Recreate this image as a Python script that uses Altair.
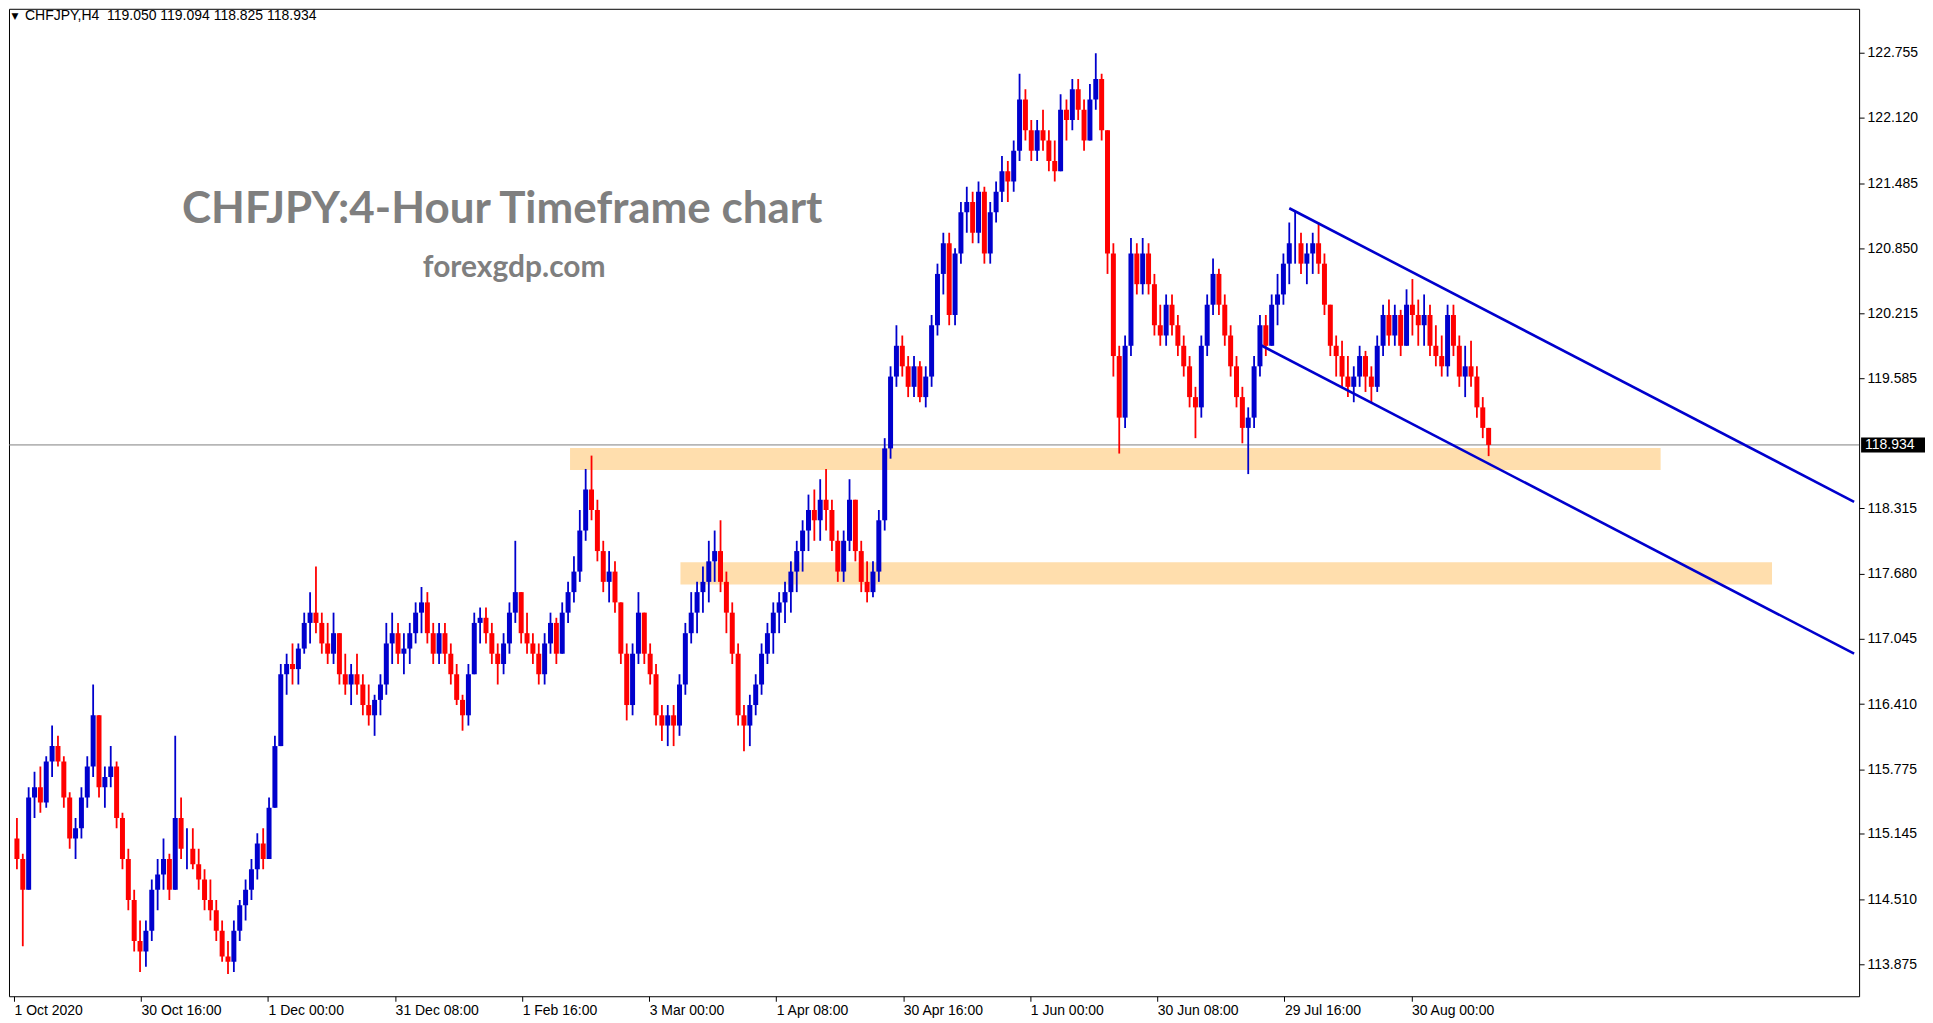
import altair as alt
import pandas as pd

# ---- data (one candle per trading day, 6 H4 bars) ----
first_open = 115.1
closes = [114.9, 114.6, 115.5, 115.6, 115.45, 115.85, 116.0, 115.85, 115.5, 115.1,
          115.2, 115.5, 115.8, 116.3, 115.6, 115.7, 115.8, 115.3, 114.9, 114.5,
          114.1, 114.0, 114.2, 114.6, 114.75, 114.9, 114.6, 115.3, 115.0, 115.0,
          114.85, 114.7, 114.5, 114.4, 114.2, 113.95, 113.9, 114.2, 114.45, 114.6,
          114.8, 115.05, 114.9, 115.4, 116.0, 116.7, 116.8, 116.75, 116.95, 117.2,
          117.3, 117.2, 117.0, 116.9, 117.1, 116.7, 116.6, 116.7, 116.6, 116.4,
          116.3, 116.45, 116.6, 117.0, 117.1, 116.9, 116.95, 117.1, 117.3, 117.4,
          117.1, 116.9, 117.1, 116.9, 116.7, 116.45, 116.3, 116.7, 117.2, 117.25,
          117.1, 116.9, 116.8, 117.0, 117.3, 117.5, 117.1, 117.0, 116.9, 116.7,
          117.0, 117.2, 116.9, 117.3, 117.5, 117.7, 118.1, 118.5, 118.3, 117.9,
          117.6, 117.7, 117.4, 116.9, 116.4, 116.9, 117.3, 116.9, 116.7, 116.3,
          116.2, 116.3, 116.2, 116.6, 117.1, 117.3, 117.5, 117.6, 117.8, 117.9,
          117.6, 117.3, 116.9, 116.3, 116.2, 116.4, 116.6, 116.9, 117.1, 117.3,
          117.4, 117.5, 117.7, 117.9, 118.1, 118.3, 118.2, 118.4, 118.3, 118.0,
          117.7, 118.0, 118.4, 117.9, 117.6, 117.5, 117.7, 118.2, 118.9, 119.6,
          119.9, 119.7, 119.5, 119.7, 119.4, 119.6, 120.1, 120.6, 120.9, 120.2,
          120.8, 121.2, 121.3, 121.0, 121.4, 120.8, 121.2, 121.4, 121.6, 121.5,
          121.8, 122.3, 122.0, 121.8, 122.0, 121.9, 121.7, 121.6, 122.2, 122.1,
          122.4, 122.2, 121.9, 122.3, 122.5, 122.0, 120.8, 119.8, 119.2, 119.9,
          120.8, 120.5, 120.8, 120.5, 120.1, 120.0, 120.3, 120.1, 119.9, 119.7,
          119.4, 119.3, 119.9, 120.3, 120.6, 120.3, 120.0, 119.7, 119.4, 119.1,
          119.2, 119.7, 120.1, 119.9, 120.3, 120.4, 120.7, 120.9, 120.9, 120.7,
          120.8, 120.9, 120.7, 120.3, 119.9, 119.8, 119.6, 119.5, 119.6, 119.8,
          119.6, 119.5, 119.9, 120.2, 120.0, 120.2, 119.9, 120.3, 120.2, 120.1,
          120.2, 119.9, 119.8, 119.7, 120.2, 119.9, 119.6, 119.7, 119.6, 119.3,
          119.1, 118.934]
highs = [115.3, 114.95, 115.6, 115.75, 115.8, 115.9, 116.2, 116.1, 115.9, 115.55,
         115.3, 115.6, 115.9, 116.6, 116.3, 115.8, 116.0, 115.85, 115.35, 115.0,
         114.6, 114.3, 114.3, 114.7, 114.9, 115.1, 114.95, 116.1, 115.5, 115.2,
         115.2, 115.0, 114.8, 114.7, 114.5, 114.3, 114.1, 114.3, 114.5, 114.7,
         114.9, 115.15, 115.2, 115.5, 116.1, 116.8, 116.9, 117.0, 117.0, 117.3,
         117.5, 117.75, 117.3, 117.2, 117.3, 117.1, 116.9, 116.8, 116.9, 116.7,
         116.6, 116.5, 116.7, 117.2, 117.3, 117.2, 117.1, 117.2, 117.4, 117.55,
         117.5, 117.2, 117.2, 117.2, 117.0, 116.8, 116.5, 116.8, 117.3, 117.35,
         117.35, 117.2, 117.0, 117.1, 117.4, 118.0, 117.5, 117.3, 117.1, 117.0,
         117.1, 117.3, 117.25, 117.4, 117.6, 117.85, 118.3, 118.7, 118.83, 118.4,
         118.0, 117.9, 117.8, 117.4, 117.0, 117.0, 117.5, 117.3, 117.0, 116.8,
         116.4, 116.4, 116.4, 116.7, 117.2, 117.5, 117.6, 117.75, 118.0, 118.1,
         118.2, 117.7, 117.4, 117.0, 116.4, 116.5, 116.7, 117.0, 117.2, 117.4,
         117.5, 117.6, 117.8, 118.0, 118.2, 118.45, 118.5, 118.6, 118.7, 118.4,
         118.1, 118.1, 118.6, 118.4, 118.0, 117.8, 117.8, 118.3, 119.0, 119.7,
         120.1, 120.0, 119.8, 119.8, 119.75, 119.7, 120.2, 120.7, 121.0, 121.0,
         120.85, 121.3, 121.45, 121.4, 121.5, 121.45, 121.3, 121.5, 121.75, 121.7,
         121.9, 122.55, 122.4, 122.1, 122.1, 122.2, 122.0, 121.9, 122.35, 122.3,
         122.5, 122.5, 122.3, 122.45, 122.75, 122.55, 122.0, 120.9, 119.9, 120.0,
         120.95, 120.9, 120.95, 120.9, 120.6, 120.3, 120.4, 120.4, 120.2, 120.0,
         119.8, 119.5, 120.0, 120.4, 120.75, 120.65, 120.4, 120.1, 119.8, 119.5,
         119.3, 119.8, 120.2, 120.2, 120.4, 120.6, 120.8, 121.1, 121.22, 121.0,
         120.9, 121.0, 121.1, 120.8, 120.3, 120.0, 119.95, 119.8, 119.7, 119.9,
         119.85, 119.7, 120.0, 120.3, 120.35, 120.3, 120.25, 120.45, 120.55, 120.35,
         120.4, 120.3, 120.1, 120.0, 120.3, 120.3, 120.0, 119.9, 119.95, 119.7,
         119.4, 119.094]
lows = [114.8, 114.05, 114.6, 115.3, 115.35, 115.4, 115.7, 115.8, 115.4, 115.0,
        114.9, 115.1, 115.4, 115.7, 115.5, 115.4, 115.6, 115.2, 114.8, 114.4,
        114.0, 113.8, 113.85, 114.1, 114.4, 114.6, 114.5, 114.6, 114.9, 114.8,
        114.8, 114.6, 114.4, 114.3, 114.1, 113.9, 113.78, 113.8, 114.1, 114.3,
        114.5, 114.7, 114.8, 114.9, 115.4, 116.0, 116.5, 116.6, 116.6, 116.9,
        117.0, 117.1, 116.9, 116.8, 116.8, 116.6, 116.5, 116.4, 116.5, 116.3,
        116.2, 116.1, 116.3, 116.5, 116.8, 116.8, 116.7, 116.8, 117.0, 117.1,
        117.0, 116.8, 116.8, 116.8, 116.6, 116.4, 116.15, 116.2, 116.7, 117.0,
        117.0, 116.8, 116.6, 116.7, 116.9, 117.2, 117.0, 116.9, 116.8, 116.6,
        116.6, 116.9, 116.8, 116.9, 117.2, 117.4, 117.6, 118.0, 118.2, 117.8,
        117.5, 117.4, 117.3, 116.8, 116.25, 116.3, 116.8, 116.8, 116.6, 116.2,
        116.05, 116.0, 116.0, 116.1, 116.5, 117.0, 117.1, 117.3, 117.4, 117.6,
        117.5, 117.1, 116.8, 116.2, 115.95, 116.0, 116.3, 116.5, 116.8, 116.9,
        117.1, 117.2, 117.3, 117.5, 117.7, 117.9, 118.0, 118.0, 118.1, 117.9,
        117.6, 117.6, 117.9, 117.8, 117.5, 117.4, 117.45, 117.6, 118.1, 118.8,
        119.5, 119.6, 119.4, 119.4, 119.35, 119.3, 119.5, 120.0, 120.4, 120.1,
        120.1, 120.7, 121.0, 120.9, 120.9, 120.7, 120.7, 121.1, 121.3, 121.3,
        121.4, 121.7, 121.9, 121.7, 121.7, 121.8, 121.6, 121.5, 121.6, 121.9,
        122.0, 122.1, 121.8, 121.9, 122.2, 121.9, 120.6, 119.6, 118.85, 119.1,
        119.8, 120.4, 120.4, 120.4, 120.0, 119.9, 119.9, 120.0, 119.8, 119.6,
        119.3, 119.0, 119.2, 119.8, 120.2, 120.2, 119.9, 119.6, 119.3, 118.95,
        118.65, 119.1, 119.6, 119.8, 119.9, 120.1, 120.3, 120.5, 120.7, 120.6,
        120.5, 120.6, 120.6, 120.2, 119.8, 119.6, 119.5, 119.4, 119.35, 119.5,
        119.45, 119.35, 119.45, 119.8, 119.9, 119.9, 119.8, 119.9, 120.0, 119.9,
        119.9, 119.8, 119.7, 119.6, 119.6, 119.8, 119.5, 119.4, 119.5, 119.2,
        119.0, 118.825]

bars_per_candle = 6
x_labels = ["1 Oct 2020", "30 Oct 16:00", "1 Dec 00:00", "31 Dec 08:00", "1 Feb 16:00",
            "3 Mar 00:00", "1 Apr 08:00", "30 Apr 16:00", "1 Jun 00:00", "30 Jun 08:00",
            "29 Jul 16:00", "30 Aug 00:00"]
bars_per_label = 130
y_ticks = [113.875, 114.510, 115.145, 115.775, 116.410, 117.045, 117.680, 118.315,
           119.585, 120.215, 120.850, 121.485, 122.120, 122.755]
current_price = 118.934

zone_x0 = [569, 682]
zone_x1 = [1685, 1799]
zone_lo = [118.69, 117.575]
zone_hi = [118.905, 117.79]

chan_name = ["upper", "upper", "lower", "lower"]
chan_bar = [1305, 1883, 1275, 1883]
chan_price = [121.24, 118.38, 119.91, 116.90]

header = "CHFJPY,H4\u00a0\u00a0119.050 119.094 118.825 118.934"
title_text = "CHFJPY:4-Hour Timeframe chart"
subtitle_text = "forexgdp.com"

# ---- build tables ----
opens = [first_open] + closes[:-1]
rows = []
for i, (o, h, l, c) in enumerate(zip(opens, highs, lows, closes)):
    rows.append({"t": bars_per_candle * i + 3, "open": o, "high": max(h, o, c),
                 "low": min(l, o, c), "close": c, "dir": "up" if c >= o else "down"})
candles = pd.DataFrame(rows)
zones = pd.DataFrame({"x0": zone_x0, "x1": zone_x1, "lo": zone_lo, "hi": zone_hi})
chan = pd.DataFrame({"name": chan_name, "t": chan_bar, "p": chan_price})

W, H = 1853, 989
FONT = "Liberation Sans"
xscale = alt.Scale(domain=[0, 1883], nice=False, zero=False)
yscale = alt.Scale(domain=[113.563, 123.183], nice=False, zero=False)
label_expr = "[" + ",".join("'%s'" % s for s in x_labels) + "][round(datum.value/%d)]" % bars_per_label

xaxis = alt.Axis(values=[bars_per_label * k for k in range(len(x_labels))], labelExpr=label_expr,
                 grid=False, domain=False, ticks=True, tickSize=5, tickColor="black",
                 labelAlign="left", labelPadding=2, labelFont=FONT, labelFontSize=14,
                 labelColor="black", labelFlush=False, labelOverlap=False, title=None)
yaxis = alt.Axis(values=y_ticks, format=".3f", orient="right", grid=False, domain=False,
                 ticks=True, tickSize=5, tickColor="black", labelAlign="left",
                 labelBaseline="middle", labelPadding=3, labelFont=FONT, labelFontSize=14,
                 labelColor="black", labelOverlap=False, title=None)

def X(f):
    return alt.X(f, scale=xscale, axis=xaxis)

def Y(f):
    return alt.Y(f, scale=yscale, axis=yaxis)

colors = alt.Scale(domain=["up", "down"], range=["#0000CD", "#FF0000"])

zone_layer = alt.Chart(zones).mark_rect(color="#FFDEAD", clip=True).encode(
    x=X("x0:Q"), x2="x1:Q", y=Y("lo:Q"), y2="hi:Q")

price_rule = alt.Chart(pd.DataFrame({"p": [current_price]})).mark_rule(
    color="#808080", strokeWidth=1).encode(y=Y("p:Q"))

wicks = alt.Chart(candles).mark_rule(strokeWidth=1.8, clip=True).encode(
    x=X("t:Q"), y=Y("low:Q"), y2="high:Q",
    color=alt.Color("dir:N", scale=colors, legend=None))

bodies = alt.Chart(candles).mark_bar(size=5, clip=True).encode(
    x=X("t:Q"), y=Y("open:Q"), y2="close:Q",
    color=alt.Color("dir:N", scale=colors, legend=None))

channel = alt.Chart(chan).mark_line(color="#0000CD", strokeWidth=2.6, clip=True).encode(
    x=X("t:Q"), y=Y("p:Q"), detail="name:N")

def txt(s, x, y, **kw):
    return alt.Chart(pd.DataFrame({"s": [s]})).mark_text(**kw).encode(
        x=alt.value(x), y=alt.value(y), text="s:N")

tri = txt("\u25BC", 6, 7, font="DejaVu Sans", fontSize=9, color="black", align="center", baseline="middle")
head = txt(header, 16, 7, font=FONT, fontSize=14, color="black", align="left", baseline="middle")
title = txt(title_text, 494, 202, font="Lato", fontSize=44, fontWeight="bold", color="#7F7F7F",
            align="center", baseline="middle")
sub = txt(subtitle_text, 506, 260, font="Lato", fontSize=30, fontWeight="bold", color="#7F7F7F",
          align="center", baseline="middle")

box_df = pd.DataFrame({"lo": [current_price - 0.073], "hi": [current_price + 0.073],
                       "p": [current_price], "s": ["%.3f" % current_price]})
box = alt.Chart(box_df).mark_rect(color="black").encode(
    x=alt.value(W + 2), x2=alt.value(W + 66), y=Y("lo:Q"), y2="hi:Q")
box_txt = alt.Chart(box_df).mark_text(font=FONT, fontSize=14, color="white", align="left",
                                      baseline="middle").encode(
    x=alt.value(W + 6), y=Y("p:Q"), text="s:N")

chart = alt.layer(zone_layer, price_rule, wicks, bodies, channel, tri, head, title, sub, box, box_txt
                  ).properties(width=W, height=H, padding=0, background="white"
                  ).configure_view(stroke="black", strokeWidth=1)

chart.save("out.html", embed_options={"renderer": "svg", "actions": False})
